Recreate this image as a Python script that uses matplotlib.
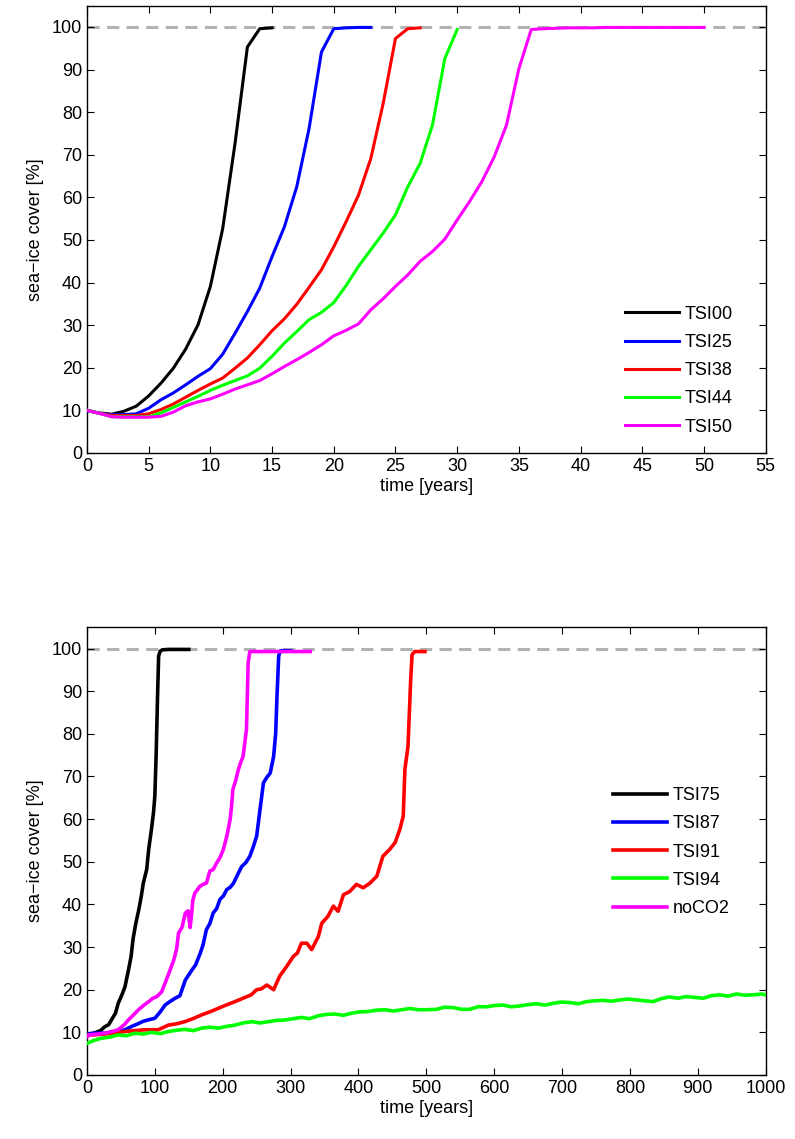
import numpy as np
import matplotlib
matplotlib.use("Agg")
import matplotlib.pyplot as plt

plt.rcParams['font.family'] = ['Liberation Sans', 'DejaVu Sans']

# --- top panel: annual values (years 0..N) ---
tsi00 = [10.0, 9.4, 9.1, 9.8, 11.0, 13.4, 16.4, 19.9, 24.4, 30.1, 39.1, 52.7, 72.7,
         95.3, 99.6, 99.8]
tsi25 = [10.0, 9.3, 9.0, 9.0, 9.2, 10.5, 12.5, 14.1, 16.0, 18.0, 19.8, 23.2, 28.1,
         33.2, 38.7, 46.1, 53.1, 62.5, 76.2, 94.1, 99.6, 99.8, 99.9, 99.9]
tsi38 = [10.0, 9.3, 8.8, 8.8, 8.8, 9.2, 10.2, 11.5, 13.1, 14.7, 16.2, 17.6, 19.9,
         22.3, 25.4, 28.7, 31.5, 34.9, 38.9, 43.0, 48.4, 54.3, 60.5, 69.1, 82.0,
         97.3, 99.6, 99.8]
tsi44 = [10.0, 9.3, 8.5, 8.5, 8.5, 8.5, 9.4, 10.7, 12.0, 13.3, 14.7, 15.9, 17.0,
         18.1, 19.9, 22.7, 25.8, 28.5, 31.3, 33.0, 35.3, 39.3, 43.8, 47.7, 51.6,
         55.9, 62.5, 68.0, 77.0, 92.6, 99.4]
tsi50 = [10.0, 9.3, 8.5, 8.4, 8.4, 8.4, 8.6, 9.6, 11.1, 12.0, 12.7, 13.8, 15.0,
         16.0, 17.0, 18.6, 20.3, 21.9, 23.6, 25.4, 27.5, 28.8, 30.3, 33.6, 36.2,
         39.1, 41.8, 45.0, 47.3, 50.2, 54.7, 59.0, 63.7, 69.5, 77.0, 90.2, 99.4,
         99.6, 99.7, 99.8, 99.8, 99.8, 99.9, 99.9, 99.9, 99.9, 99.9, 99.9, 99.9,
         99.9, 99.9]
top_names = ["TSI00", "TSI25", "TSI38", "TSI44", "TSI50"]
top_series = [tsi00, tsi25, tsi38, tsi44, tsi50]

# --- bottom panel: values (year, cover) ---
t75_x = [0, 10, 20, 26, 32, 36, 42, 46, 52, 56, 61, 65, 68, 72, 76, 80, 83, 88,
         91, 95, 98, 100, 102, 104, 105.6, 108, 111, 120, 135, 150]
t75_y = [9.4, 9.8, 10.4, 11.3, 11.8, 12.9, 14.5, 16.8, 19.0, 20.7, 24.5, 27.8,
         32.0, 35.6, 38.5, 41.9, 45.0, 48.2, 53.0, 57.6, 61.5, 65.4, 75.6, 88.9,
         98.3, 99.4, 99.7, 99.8, 99.8, 99.8]

t87_x = [0, 10, 26, 36, 46, 56, 66, 75, 83, 92, 100, 108, 115, 122, 130, 137,
         145, 150, 155, 160, 167, 171, 176, 181, 186, 191, 196, 201, 206, 211,
         216, 222, 228, 234, 240, 245, 250, 255, 260, 265, 270, 275, 278, 280,
         282.5, 285, 290, 300]
t87_y = [9.6, 9.8, 9.8, 10.0, 10.2, 10.6, 11.4, 12.0, 12.6, 13.0, 13.3, 14.8,
         16.4, 17.2, 18.0, 18.6, 22.3, 23.5, 24.7, 25.8, 28.6, 30.5, 34.1, 35.5,
         38.0, 39.0, 41.2, 42.0, 43.5, 44.0, 45.0, 47.0, 48.9, 49.8, 51.3, 53.5,
         56.0, 62.3, 68.5, 69.8, 70.8, 74.7, 80.0, 88.9, 98.3, 99.5, 99.5, 99.5]

t91_x = [0, 10, 26, 40, 56, 70, 85, 105, 120, 132, 144, 156, 169, 181, 193,
         205, 218, 230, 242, 250, 257, 265, 275, 284, 294, 304, 310, 316, 324,
         331, 341, 346, 355, 363, 370, 378, 387, 397, 407, 417, 427, 436, 446,
         454, 461, 466, 468.4, 473, 477, 479, 483, 490, 498]
t91_y = [9.4, 9.4, 9.6, 9.8, 10.2, 10.4, 10.6, 10.6, 11.7, 12.0, 12.5, 13.2,
         14.1, 14.8, 15.6, 16.4, 17.2, 18.0, 18.8, 20.0, 20.2, 21.1, 20.0, 23.2,
         25.4, 27.8, 28.6, 30.9, 30.9, 29.4, 32.5, 35.6, 37.2, 39.6, 38.4, 42.3,
         43.0, 44.7, 43.9, 45.0, 46.6, 51.3, 52.9, 54.5, 57.6, 60.7, 71.6, 77.1,
         92.8, 98.6, 99.3, 99.3, 99.3]

t94_x = [0, 10, 21, 34, 46, 58, 71, 83, 95, 108, 120, 132, 144, 157, 169, 181,
         194, 206, 218, 230, 243, 255, 267, 279, 292, 304, 316, 328, 341, 353,
         365, 378, 390, 402, 415, 427, 439, 451, 464, 476, 488, 500, 515, 527,
         540, 552, 564, 576, 589, 601, 613, 625, 638, 650, 662, 675, 687, 699,
         711, 724, 736, 748, 760, 773, 785, 797, 810, 822, 834, 846, 858, 871,
         883, 895, 908, 920, 932, 945, 957, 969, 982, 994, 1000]
t94_y = [7.4, 8.1, 8.6, 8.9, 9.4, 9.2, 9.8, 9.6, 10.0, 9.7, 10.2, 10.5, 10.7,
         10.4, 11.0, 11.2, 11.0, 11.4, 11.7, 12.2, 12.5, 12.2, 12.5, 12.8, 12.9,
         13.2, 13.5, 13.2, 13.9, 14.2, 14.3, 14.0, 14.5, 14.8, 14.9, 15.2, 15.3,
         15.0, 15.3, 15.6, 15.3, 15.3, 15.4, 15.9, 15.8, 15.4, 15.4, 16.0, 16.0,
         16.3, 16.4, 16.0, 16.2, 16.5, 16.7, 16.4, 16.8, 17.1, 17.0, 16.7, 17.2,
         17.4, 17.5, 17.3, 17.6, 17.8, 17.6, 17.4, 17.2, 17.9, 18.3, 18.0, 18.4,
         18.2, 18.0, 18.6, 18.8, 18.5, 19.0, 18.7, 18.8, 19.0, 18.8]

nco2_x = [0, 4, 15, 27, 37, 46, 55, 61, 68, 76, 84, 91, 97, 103, 110, 115, 121,
          128, 132, 135, 140, 145, 149, 152, 154, 156, 159, 163, 166, 171, 176,
          181, 186, 191, 196, 201, 206, 211, 213, 215, 219, 223, 227, 230, 235,
          237.5, 240, 260, 300, 329]
nco2_y = [9.0, 9.4, 9.6, 9.8, 10.2, 10.6, 11.8, 12.9, 14.0, 15.3, 16.4, 17.2,
          18.0, 18.4, 19.5, 21.5, 24.0, 27.0, 29.5, 33.3, 34.6, 38.0, 38.5, 34.6,
          37.5, 41.0, 42.7, 43.5, 44.2, 44.7, 45.0, 47.8, 48.2, 49.7, 51.0, 52.9,
          56.0, 60.0, 63.0, 67.0, 69.0, 71.6, 73.5, 74.7, 81.0, 96.7, 99.3, 99.3,
          99.3, 99.3]

bot_names = ["TSI75", "TSI87", "TSI91", "TSI94", "noCO2"]
bot_series = [(t75_x, t75_y), (t87_x, t87_y), (t91_x, t91_y), (t94_x, t94_y),
              (nco2_x, nco2_y)]

colors = ["#000000", "#0000ff", "#ff0000", "#00ff00", "#ff00ff"]

fig = plt.figure(figsize=(7.95, 11.39), dpi=100)
ax1 = fig.add_axes([0.1094, 0.6023, 0.8537, 0.3927])
ax2 = fig.add_axes([0.1094, 0.0562, 0.8537, 0.3931])


def style_axes(ax, xlim, xticks):
    ax.axhline(100, color="#b3b3b3", lw=2.2, dashes=(4, 2.4), zorder=1)
    ax.set_xlim(*xlim)
    ax.set_ylim(0, 105)
    ax.set_xticks(xticks)
    ax.set_yticks(np.arange(0, 101, 10))
    ax.tick_params(direction="in", top=True, right=True, length=5, width=0.8,
                   labelsize=13, colors="#000000")
    for s in ax.spines.values():
        s.set_linewidth(1.0)
    ax.set_xlabel("time [years]", fontsize=13, labelpad=2)
    ax.set_ylabel("sea\u2212ice cover [%]", fontsize=13, labelpad=6)


for name, vals, c in zip(top_names, top_series, colors):
    ax1.plot(np.arange(len(vals)), vals, color=c, lw=2.2, label=name, zorder=3)
style_axes(ax1, (0, 55), np.arange(0, 56, 5))
ax1.legend(loc="center left", bbox_to_anchor=(0.793, 0.184), frameon=False,
           fontsize=13, handlelength=3.0, handletextpad=0.3, labelspacing=0.62,
           borderpad=0, borderaxespad=0)

for name, (xs, ys), c in zip(bot_names, bot_series, colors):
    ax2.plot(xs, ys, color=c, lw=2.6, label=name, zorder=3)
style_axes(ax2, (0, 1000), np.arange(0, 1001, 100))
ax2.legend(loc="center left", bbox_to_anchor=(0.775, 0.498), frameon=False,
           fontsize=13, handlelength=3.0, handletextpad=0.3, labelspacing=0.62,
           borderpad=0, borderaxespad=0)

fig.savefig("out.png", dpi=100)
